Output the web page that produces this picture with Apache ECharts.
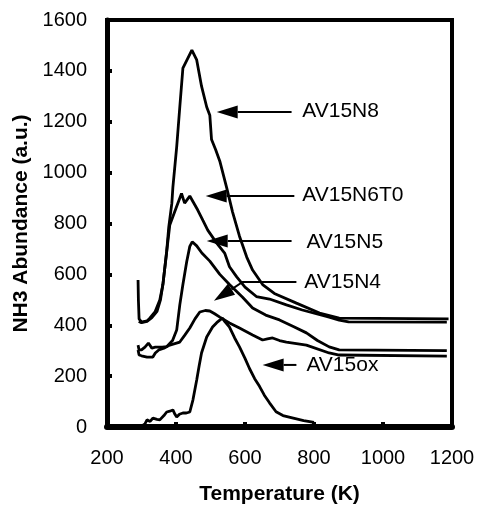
<!DOCTYPE html>
<html>
<head>
<meta charset="utf-8">
<script src="https://cdn.jsdelivr.net/npm/echarts@6/dist/echarts.min.js"></script>
<style>html,body{margin:0;padding:0;background:#fff;}#c{width:479px;height:506px;}</style>
</head>
<body>
<div id="c"></div>
<script>
// ---- data (Temperature K, NH3 abundance a.u.) ----
const xTicks = [200, 400, 600, 800, 1000, 1200];
const yTicks = [0, 200, 400, 600, 800, 1000, 1200, 1400, 1600];

const AV15N8 = [[290,578],[291,500],[293,425],[300,412],[316,417],[324,428],[339,452],[353,499],[362,560],[373,690],[379,786],[388,880],[391,943],[402,1101],[411,1258],[420,1411],[446,1482],[460,1443],[474,1340],[489,1258],[498,1226],[503,1130],[515,1090],[527,1045],[547,940],[564,845],[584,750],[605,668],[622,617],[651,560],[685,525],[749,487],[816,448],[873,428],[1190,425]];

const AV15N6T0 = [[292,415],[300,410],[316,415],[330,430],[345,455],[355,500],[362,560],[373,690],[382,794],[400,860],[416,918],[425,880],[433,895],[440,908],[463,853],[478,812],[492,774],[518,723],[541,684],[555,630],[576,590],[600,550],[633,513],[671,503],[720,480],[766,460],[844,432],[873,420],[900,413],[1185,412]];

const AV15N5 = [[290,322],[293,303],[300,303],[310,314],[320,330],[330,310],[340,314],[360,314],[373,316],[390,340],[402,381],[411,480],[420,560],[431,650],[440,710],[447,728],[460,712],[475,684],[498,652],[527,600],[555,560],[593,510],[622,468],[660,440],[700,421],[740,395],[778,370],[810,340],[844,315],[873,303],[1185,300]];

const AV15N4 = [[290,303],[293,283],[300,280],[316,275],[333,275],[340,291],[350,303],[365,310],[382,322],[411,334],[425,360],[440,389],[455,425],[469,452],[485,458],[498,456],[512,445],[527,432],[555,409],[584,389],[622,362],[651,342],[665,346],[680,350],[700,340],[720,334],[778,322],[844,291],[873,283],[1185,279]];

const AV15ox = [[290,5],[300,3],[310,12],[316,28],[325,22],[333,35],[345,30],[353,28],[365,45],[373,59],[382,62],[391,67],[397,50],[402,39],[410,50],[420,55],[430,55],[440,59],[449,106],[460,185],[467,240],[474,291],[489,354],[506,393],[518,410],[527,420],[535,428],[541,415],[555,393],[570,350],[584,315],[600,270],[613,230],[628,190],[642,160],[656,125],[671,95],[690,60],[710,45],[740,35],[770,25],[800,18]];

// annotations: label, text anchor [T, value], arrow path from text side to tip
const annotations = [
  {label:'AV15N8',   text:[766,1242], path:[[735,1238],[518,1238]]},
  {label:'AV15N6T0', text:[766,910],  path:[[743,908],[486,908]]},
  {label:'AV15N5',   text:[778,727],  path:[[735,731],[489,731]]},
  {label:'AV15N4',   text:[772,570],  path:[[749,570],[593,570],[510,496]]},
  {label:'AV15ox',   text:[778,244],  path:[[749,244],[651,244]]}
];

const seriesList = [
  {name:'AV15N8', data:AV15N8},
  {name:'AV15N6T0', data:AV15N6T0},
  {name:'AV15N5', data:AV15N5},
  {name:'AV15N4', data:AV15N4},
  {name:'AV15ox', data:AV15ox}
];

const FONT = 'Liberation Sans, Arial, sans-serif';
const chart = echarts.init(document.getElementById('c'), null, {renderer:'canvas'});
chart.setOption({
  animation: false,
  backgroundColor: '#fff',
  grid: {left:107, right:27, top:20, bottom:79, show:true, borderColor:'#000', borderWidth:4, containLabel:false, outerBoundsMode:'none'},
  xAxis: {
    type:'value', min:xTicks[0], max:xTicks[xTicks.length-1], interval:200,
    name:'Temperature (K)', nameLocation:'middle', nameGap:57,
    nameTextStyle:{fontFamily:FONT, fontWeight:'bold', fontSize:21, color:'#000'},
    axisLine:{show:true, lineStyle:{color:'#000', width:6}},
    axisTick:{show:true, inside:true, length:5, lineStyle:{color:'#000', width:4}},
    axisLabel:{margin:21, fontFamily:FONT, fontSize:20, color:'#000', formatter:v => String(v)},
    splitLine:{show:false}
  },
  yAxis: {
    type:'value', min:yTicks[0], max:yTicks[yTicks.length-1], interval:200,
    name:'NH3 Abundance (a.u.)', nameLocation:'middle', nameGap:74, nameRotate:90,
    nameTextStyle:{fontFamily:FONT, fontWeight:'bold', fontSize:21, color:'#000'},
    axisLine:{show:true, lineStyle:{color:'#000', width:5}},
    axisTick:{show:true, inside:true, length:5, lineStyle:{color:'#000', width:4}},
    axisLabel:{margin:20, fontFamily:FONT, fontSize:20, color:'#000', formatter:v => String(v)},
    splitLine:{show:false}
  },
  series: seriesList.map(s => ({
    name:s.name, type:'line', data:s.data, showSymbol:false, symbol:'none',
    lineStyle:{color:'#000', width:2.8}, z:3
  }))
});

const g = [];
annotations.forEach(a => {
  const pts = a.path.map(p => chart.convertToPixel({gridIndex:0}, p));
  const tip = pts[pts.length-1], prev = pts[pts.length-2];
  const dx = tip[0]-prev[0], dy = tip[1]-prev[1];
  const L = Math.hypot(dx, dy), ux = dx/L, uy = dy/L;
  const bx = tip[0]-ux*21, by = tip[1]-uy*21;
  const linePts = pts.slice(0, -1).concat([[bx, by]]);
  g.push({type:'polyline', shape:{points:linePts}, style:{stroke:'#000', lineWidth:2, fill:null}, z:10});
  g.push({type:'polygon', shape:{points:[tip,[bx-uy*6.5, by+ux*6.5],[bx+uy*6.5, by-ux*6.5]]}, style:{fill:'#000'}, z:10});
  const tp = chart.convertToPixel({gridIndex:0}, a.text);
  g.push({type:'text', x:tp[0], y:tp[1], style:{text:a.label, font:'21px ' + FONT, fill:'#000', align:'left', verticalAlign:'middle'}, z:10});
});
chart.setOption({graphic: g});
</script>
</body>
</html>
